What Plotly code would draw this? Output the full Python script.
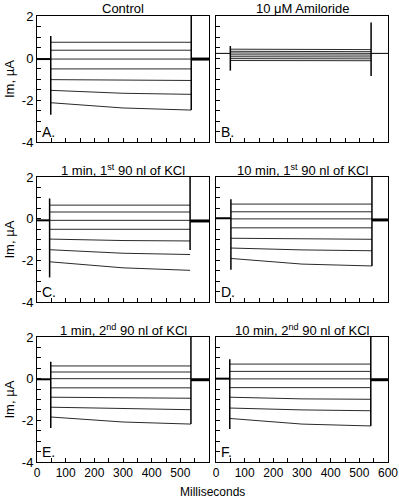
import plotly.graph_objects as go

W, H = 399, 499

PANELS = ["A.", "B.", "C.", "D.", "E.", "F."]
TITLES = [
    "Control",
    "10 \u03bcM Amiloride",
    "1 min, 1<sup>st</sup> 90 nl of KCl",
    "10 min, 1<sup>st</sup> 90 nl of KCl",
    "1 min, 2<sup>nd</sup> 90 nl of KCl",
    "10 min, 2<sup>nd</sup> 90 nl of KCl",
]

# time points (ms)
ONSET_MS = [48, 50, 44, 52, 48, 48]
OFFSET_MS = [538, 541, 534, 544, 537, 540]
MID_MS = 300
END_MS = 600

# holding current before / after the step (uA)
PRE_BASE = [-0.05, 0.22, -0.08, 0.02, -0.03, 0.0]
POST_BASE = [-0.05, 0.22, -0.11, -0.06, -0.05, -0.05]

# capacitive transients (uA)
ON_SPIKE_MAX = [1.05, 0.57, 0.97, 0.93, 0.81, 0.93]
ON_SPIKE_MIN = [-2.7, -0.6, -2.82, -2.45, -2.37, -2.42]
OFF_SPIKE_MAX = [2.6, 1.69, 2.6, 2.6, 2.6, 2.6]
OFF_SPIKE_MIN = [-2.48, -0.86, -1.5, -2.27, -2.18, -2.27]

# step currents: start / mid (300 ms) / end of step (uA)
A_START = [0.75, 0.37, -0.05, -0.52, -1.03, -1.54, -2.13]
A_MID = [0.75, 0.37, -0.05, -0.52, -1.06, -1.68, -2.38]
A_END = [0.75, 0.37, -0.05, -0.52, -1.07, -1.73, -2.48]

B_START = [0.42, 0.32, 0.24, 0.15, 0.06, -0.03, -0.12]
B_MID = [0.41, 0.31, 0.23, 0.14, 0.05, -0.04, -0.13]
B_END = [0.40, 0.30, 0.22, 0.14, 0.05, -0.04, -0.13]

C_START = [0.65, 0.32, -0.08, -0.51, -0.98, -1.49, -2.07]
C_MID = [0.65, 0.32, -0.08, -0.51, -1.05, -1.66, -2.36]
C_END = [0.65, 0.32, -0.08, -0.51, -1.07, -1.72, -2.48]

D_START = [0.70, 0.33, -0.01, -0.44, -0.94, -1.41, -1.91]
D_MID = [0.70, 0.33, -0.01, -0.44, -0.98, -1.50, -2.18]
D_END = [0.70, 0.33, -0.01, -0.44, -0.99, -1.54, -2.27]

E_START = [0.61, 0.32, 0.0, -0.44, -0.89, -1.37, -1.84]
E_MID = [0.61, 0.32, 0.0, -0.44, -0.93, -1.45, -2.08]
E_END = [0.61, 0.32, 0.0, -0.44, -0.94, -1.49, -2.18]

F_START = [0.70, 0.35, -0.01, -0.43, -0.89, -1.41, -1.91]
F_MID = [0.70, 0.35, -0.01, -0.43, -0.97, -1.50, -2.18]
F_END = [0.70, 0.35, -0.01, -0.43, -0.99, -1.54, -2.27]

STARTS = [A_START, B_START, C_START, D_START, E_START, F_START]
MIDS = [A_MID, B_MID, C_MID, D_MID, E_MID, F_MID]
ENDS = [A_END, B_END, C_END, D_END, E_END, F_END]

X_LABELS_LEFT = [0, 100, 200, 300, 400, 500]
X_LABELS_RIGHT = [0, 100, 200, 300, 400, 500, 600]
Y_LABELS = [-4, -2, 0, 2]

FONT = "Liberation Sans, Arial, sans-serif"

# layout geometry in pixels
COLS = [(37, 209), (216, 388)]
ROWS = [(16, 142), (177, 302), (337, 462)]


def px_x(p):
    return p / W


def px_y(p):
    return 1 - p / H


fig = go.Figure()
annotations = []

for i in range(6):
    r, c = divmod(i, 2)
    ax = "" if i == 0 else str(i + 1)
    xref, yref = "x" + ax, "y" + ax
    t0, t1 = ONSET_MS[i], OFFSET_MS[i]
    thin = dict(color="#2a2a2a", width=1)
    fig.add_trace(go.Scatter(x=[0, t0], y=[PRE_BASE[i], PRE_BASE[i]], mode="lines",
                             line=dict(color="black", width=1 if i == 1 else 2),
                             xaxis=xref, yaxis=yref, showlegend=False, hoverinfo="skip"))
    for s, m, e in zip(STARTS[i], MIDS[i], ENDS[i]):
        fig.add_trace(go.Scatter(x=[t0, MID_MS, t1], y=[s, m, e], mode="lines",
                                 line=thin, xaxis=xref, yaxis=yref,
                                 showlegend=False, hoverinfo="skip"))
    fig.add_trace(go.Scatter(x=[t0, t0], y=[ON_SPIKE_MAX[i], ON_SPIKE_MIN[i]], mode="lines",
                             line=dict(color="black", width=1.5), xaxis=xref, yaxis=yref,
                             showlegend=False, hoverinfo="skip"))
    fig.add_trace(go.Scatter(x=[t1, t1], y=[OFF_SPIKE_MAX[i], OFF_SPIKE_MIN[i]], mode="lines",
                             line=dict(color="black", width=1.5), xaxis=xref, yaxis=yref,
                             showlegend=False, hoverinfo="skip"))
    fig.add_trace(go.Scatter(x=[t1, END_MS], y=[POST_BASE[i], POST_BASE[i]], mode="lines",
                             line=dict(color="black", width=1 if i == 1 else 3),
                             xaxis=xref, yaxis=yref, showlegend=False, hoverinfo="skip"))

    x0, x1 = COLS[c]
    y0, y1 = ROWS[r]
    xvals = X_LABELS_LEFT if c == 0 else X_LABELS_RIGHT

    fig.layout["xaxis" + ax] = dict(
        domain=[px_x(x0), px_x(x1)], range=[0, 600], anchor=yref,
        tickmode="array", tickvals=xvals, ticktext=[str(v) for v in xvals],
        showticklabels=(r == 2),
        ticks="inside", ticklen=4, tickwidth=1, tickcolor="black",
        minor=dict(dtick=50, tick0=0, ticks="inside", ticklen=4, tickwidth=1,
                   tickcolor="black", showgrid=False),
        showline=True, linecolor="black", linewidth=1, mirror=True,
        showgrid=False, zeroline=False, automargin=False,
        tickfont=dict(family=FONT, size=12, color="black"),
    )
    fig.layout["yaxis" + ax] = dict(
        domain=[px_y(y1), px_y(y0)], range=[-4, 2], anchor=xref,
        tickmode="array", tickvals=Y_LABELS, ticktext=[str(v) for v in Y_LABELS],
        showticklabels=(c == 0),
        ticks="inside", ticklen=4, tickwidth=1, tickcolor="black",
        minor=dict(dtick=0.5, tick0=0, ticks="inside", ticklen=4, tickwidth=1,
                   tickcolor="black", showgrid=False),
        showline=True, linecolor="black", linewidth=1, mirror=True,
        showgrid=False, zeroline=False, automargin=False,
        tickfont=dict(family=FONT, size=13, color="black"),
    )

    annotations.append(dict(text=TITLES[i], x=px_x((x0 + x1) / 2), y=px_y(y0 - 7.5),
                            xref="paper", yref="paper", xanchor="center", yanchor="middle",
                            borderpad=0,
                            showarrow=False, font=dict(family=FONT, size=13, color="black")))
    annotations.append(dict(text=PANELS[i], x=px_x(x0 + 3), y=px_y(y1 - 10),
                            xref="paper", yref="paper", xanchor="left", yanchor="middle",
                            showarrow=False, font=dict(family=FONT, size=14, color="black")))
    if c == 0:
        annotations.append(dict(text="Im, \u00b5A", x=px_x(9), y=px_y((y0 + y1) / 2),
                                xref="paper", yref="paper", xanchor="center", yanchor="middle",
                                textangle=-90, showarrow=False,
                                font=dict(family=FONT, size=13, color="black")))

annotations.append(dict(text="Milliseconds", x=px_x(212), y=px_y(492),
                        xref="paper", yref="paper", xanchor="center", yanchor="middle",
                        showarrow=False, font=dict(family=FONT, size=12, color="black")))

fig.update_layout(
    template="none",
    width=W, height=H,
    margin=dict(l=0, r=0, t=0, b=0, pad=0),
    paper_bgcolor="white", plot_bgcolor="white",
    annotations=annotations,
    showlegend=False,
)

fig.write_html(
    "out.html",
    config={"displayModeBar": False},
    post_script="document.body.style.margin='0px';document.body.style.overflow='hidden';",
)
